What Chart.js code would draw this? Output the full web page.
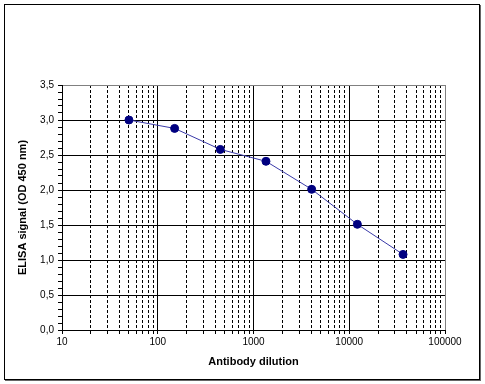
<!DOCTYPE html>
<html>
<head>
<meta charset="utf-8">
<script src="https://cdn.jsdelivr.net/npm/chart.js@4/dist/chart.umd.min.js"></script>
<style>
  html, body { margin: 0; padding: 0; background: #fff; }
  #wrap { position: relative; width: 485px; height: 384px; }
  #chart { position: absolute; left: 0; top: 0; }
  #frame {
    position: absolute; left: 4px; top: 4px; width: 474px; height: 374px;
    border: 1px solid #000; box-shadow: 1px 1px 0 #666; pointer-events: none;
  }
</style>
</head>
<body>
<div id="wrap">
  <canvas id="chart" width="485" height="384"></canvas>
  <div id="frame"></div>
</div>
<script>
// antibody dilution (x) and ELISA signal (y)
const dilutions = [50, 150, 450, 1350, 4050, 12150, 36450];
const signals = [3.0, 2.88, 2.58, 2.41, 2.01, 1.51, 1.08];
const xTickLabels = [10, 100, 1000, 10000, 100000];
const yTickLabels = [0, 0.5, 1.0, 1.5, 2.0, 2.5, 3.0, 3.5];

const points = dilutions.map((d, i) => ({ x: d, y: signals[i] }));

const isMajorY = v => Math.round(v * 10) % 5 === 0;
const isDecade = v => xTickLabels.some(t => Math.abs(t - v) < 1e-6);

const ctx = document.getElementById('chart').getContext('2d');
new Chart(ctx, {
    type: 'scatter',
    data: {
        datasets: [{
            data: points,
            showLine: true,
            borderColor: '#3a3aa8',
            borderWidth: 1,
            backgroundColor: '#000080',
            pointBackgroundColor: '#000080',
            pointBorderColor: '#000080',
            pointRadius: 4,
            pointHoverRadius: 4
        }]
    },
    options: {
        responsive: false,
        animation: false,
        layout: { padding: { left: 0, top: 85, right: 40, bottom: 0 } },
        plugins: { legend: { display: false }, tooltip: { enabled: false } },
        scales: {
            x: {
                type: 'logarithmic',
                min: xTickLabels[0],
                max: xTickLabels[xTickLabels.length - 1],
                afterBuildTicks: scale => {
                    const ticks = [];
                    xTickLabels.forEach((t, i) => {
                        if (i === xTickLabels.length - 1) { ticks.push({ value: t }); return; }
                        for (let k = 1; k <= 9; k++) ticks.push({ value: t * k });
                    });
                    scale.ticks = ticks;
                },
                afterFit: scale => { scale.height = 54; },
                ticks: {
                    autoSkip: false,
                    maxRotation: 0,
                    padding: 2,
                    color: '#000',
                    font: { family: 'Liberation Sans, Arial, sans-serif', size: 10 },
                    callback: v => isDecade(v) ? String(v) : ''
                },
                grid: {
                    color: c => {
                        if (!c.tick) return '#000';
                        if (c.tick.value === 100000) return '#808080';
                        return '#000';
                    },
                    lineWidth: 1,
                    tickLength: 4,
                    tickColor: '#000'
                },
                border: {
                    display: true,
                    color: '#000',
                    dash: c => (c.tick && !isDecade(c.tick.value)) ? [3, 2] : []
                },
                title: {
                    display: true,
                    text: 'Antibody dilution',
                    color: '#000',
                    font: { family: 'Liberation Sans, Arial, sans-serif', size: 11, weight: 'bold' },
                    padding: { top: 0, bottom: 15 }
                }
            },
            y: {
                min: yTickLabels[0],
                max: yTickLabels[yTickLabels.length - 1],
                afterBuildTicks: scale => {
                    const ticks = [];
                    for (let i = 0; i <= 35; i++) ticks.push({ value: i / 10 });
                    scale.ticks = ticks;
                },
                afterFit: scale => { scale.width = 62; },
                ticks: {
                    autoSkip: false,
                    padding: 4,
                    color: '#000',
                    font: { family: 'Liberation Sans, Arial, sans-serif', size: 10 },
                    callback: v => isMajorY(v) ? v.toFixed(1).replace('.', ',') : ''
                },
                grid: {
                    color: c => {
                        if (!c.tick) return '#000';
                        if (!isMajorY(c.tick.value)) return 'rgba(0,0,0,0)';
                        if (Math.abs(c.tick.value - 3.5) < 1e-6) return '#808080';
                        return '#000';
                    },
                    lineWidth: 1,
                    tickLength: 4,
                    tickColor: '#000'
                },
                border: { display: true, color: '#000' },
                title: {
                    display: true,
                    text: 'ELISA signal (OD 450 nm)',
                    color: '#000',
                    font: { family: 'Liberation Sans, Arial, sans-serif', size: 11, weight: 'bold' },
                    padding: { top: 16, bottom: 0 }
                }
            }
        }
    }
});
</script>
</body>
</html>
